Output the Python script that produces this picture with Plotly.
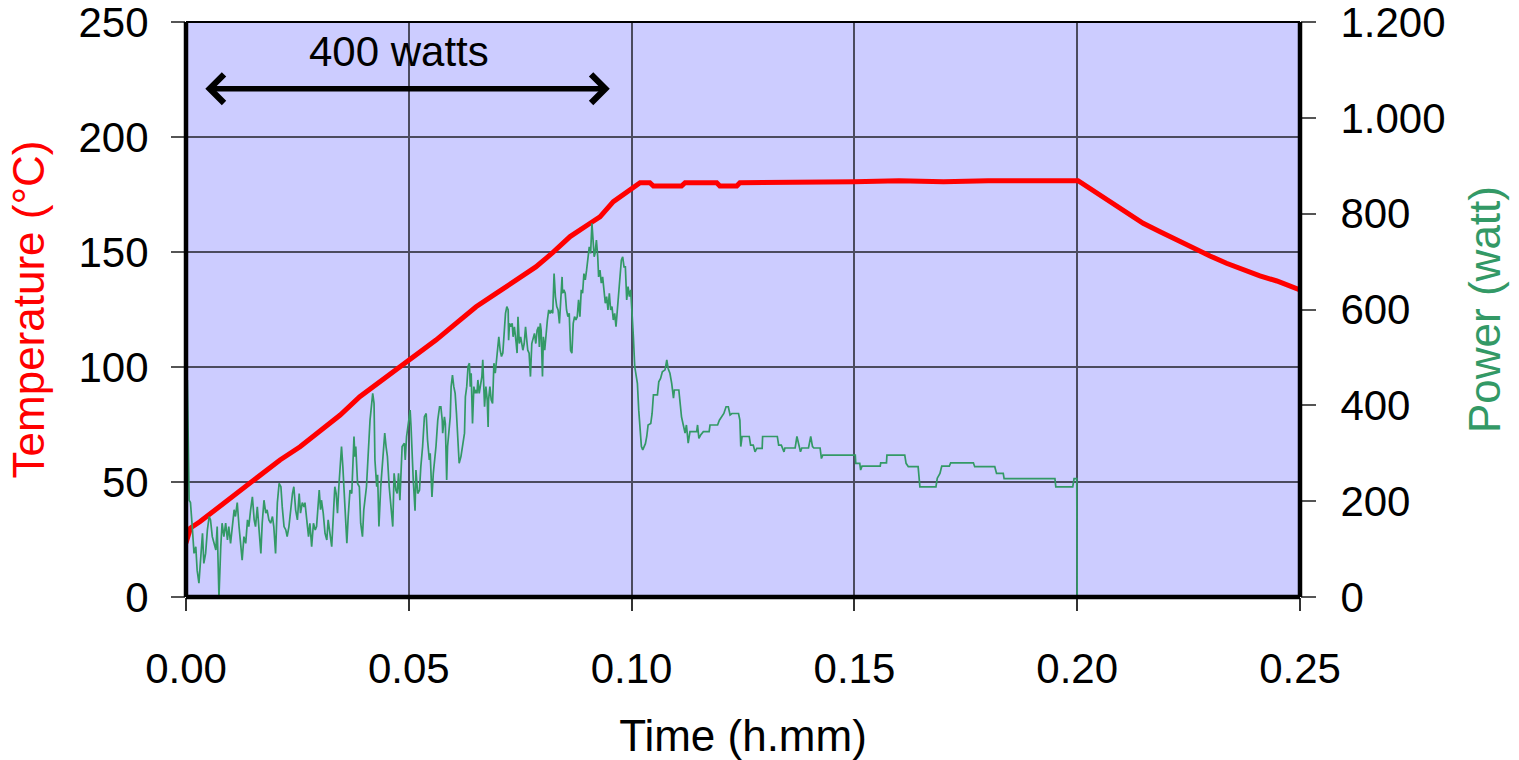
import plotly.graph_objects as go

# ---------------- data ----------------
TEMP_TIME = [0.0000, 0.0010, 0.0031, 0.0076, 0.0121, 0.0166, 0.0211, 0.0256, 0.0301, 0.0346,
             0.0390, 0.0435, 0.0480, 0.0525, 0.0561, 0.0606, 0.0651, 0.0696, 0.0741, 0.0785,
             0.0817, 0.0862, 0.0907, 0.0929, 0.0959, 0.0989, 0.1011, 0.1019, 0.1041, 0.1049,
             0.1112, 0.1120, 0.1191, 0.1198, 0.1236, 0.1243, 0.1500, 0.1600, 0.1700, 0.1800,
             0.2002, 0.2036, 0.2073, 0.2111, 0.2148, 0.2186, 0.2223, 0.2260, 0.2298, 0.2335,
             0.2373, 0.2410, 0.2448, 0.2485, 0.2500]
TEMP_C = [23.5, 30.0, 32.7, 39.3, 45.8, 53.0, 59.6, 65.3, 71.9, 79.1,
          87.1, 93.6, 100.1, 106.5, 111.7, 119.0, 126.2, 132.0, 137.8, 143.5,
          148.7, 156.7, 162.5, 165.3, 171.9, 176.2, 179.1, 180.1, 180.1, 178.7,
          178.7, 180.1, 180.1, 178.7, 178.7, 180.1, 180.5, 181.0, 180.5, 181.0,
          181.0, 176.7, 171.4, 166.8, 162.5, 158.8, 155.2, 151.6, 148.3, 145.1,
          142.2, 139.6, 137.4, 134.9, 133.5]

POWER_TIME = [
    0.0000, 0.0003, 0.0007, 0.0010, 0.0014, 0.0018, 0.0022, 0.0025, 0.0029, 0.0033,
    0.0037, 0.0040, 0.0044, 0.0048, 0.0052, 0.0055, 0.0059, 0.0063, 0.0067, 0.0070,
    0.0074, 0.0078, 0.0081, 0.0085, 0.0089, 0.0093, 0.0096, 0.0100, 0.0104, 0.0108,
    0.0111, 0.0115, 0.0119, 0.0123, 0.0126, 0.0130, 0.0134, 0.0138, 0.0141, 0.0145,
    0.0149, 0.0153, 0.0156, 0.0160, 0.0164, 0.0168, 0.0171, 0.0175, 0.0179, 0.0182,
    0.0186, 0.0190, 0.0194, 0.0197, 0.0201, 0.0205, 0.0209, 0.0213, 0.0216, 0.0220,
    0.0224, 0.0227, 0.0231, 0.0235, 0.0239, 0.0242, 0.0246, 0.0250, 0.0254, 0.0257,
    0.0261, 0.0265, 0.0267, 0.0271, 0.0275, 0.0278, 0.0282, 0.0286, 0.0290, 0.0293,
    0.0297, 0.0299, 0.0302, 0.0304, 0.0308, 0.0312, 0.0316, 0.0319, 0.0327, 0.0331,
    0.0334, 0.0337, 0.0340, 0.0343, 0.0346, 0.0349, 0.0352, 0.0355, 0.0358, 0.0361,
    0.0364, 0.0368, 0.0372, 0.0374, 0.0377, 0.0379, 0.0381, 0.0385, 0.0389, 0.0392,
    0.0396, 0.0399, 0.0405, 0.0409, 0.0413, 0.0419, 0.0422, 0.0424, 0.0428, 0.0430,
    0.0433, 0.0437, 0.0441, 0.0446, 0.0449, 0.0452, 0.0456, 0.0459, 0.0464, 0.0467,
    0.0471, 0.0474, 0.0477, 0.0480, 0.0482, 0.0485, 0.0490, 0.0492, 0.0495, 0.0499,
    0.0503, 0.0505, 0.0506, 0.0510, 0.0514, 0.0516, 0.0520, 0.0524, 0.0527, 0.0531,
    0.0535, 0.0539, 0.0542, 0.0546, 0.0548, 0.0550, 0.0552, 0.0555, 0.0558, 0.0561,
    0.0565, 0.0569, 0.0572, 0.0575, 0.0576, 0.0580, 0.0582, 0.0585, 0.0587, 0.0589,
    0.0591, 0.0593, 0.0595, 0.0598, 0.0601, 0.0604, 0.0607, 0.0610, 0.0613, 0.0617,
    0.0621, 0.0625, 0.0627, 0.0630, 0.0633, 0.0636, 0.0638, 0.0640, 0.0643, 0.0646,
    0.0649, 0.0651, 0.0653, 0.0655, 0.0658, 0.0661, 0.0664, 0.0666, 0.0668, 0.0670,
    0.0673, 0.0676, 0.0678, 0.0679, 0.0682, 0.0685, 0.0688, 0.0691, 0.0694, 0.0697,
    0.0699, 0.0702, 0.0705, 0.0708, 0.0711, 0.0714, 0.0717, 0.0720, 0.0723, 0.0724,
    0.0726, 0.0729, 0.0732, 0.0734, 0.0737, 0.0741, 0.0743, 0.0745, 0.0748, 0.0751,
    0.0754, 0.0756, 0.0759, 0.0762, 0.0764, 0.0767, 0.0770, 0.0773, 0.0776, 0.0779,
    0.0782, 0.0785, 0.0788, 0.0791, 0.0793, 0.0795, 0.0797, 0.0800, 0.0802, 0.0805,
    0.0808, 0.0811, 0.0814, 0.0817, 0.0820, 0.0823, 0.0826, 0.0829, 0.0832, 0.0835,
    0.0838, 0.0841, 0.0844, 0.0845, 0.0848, 0.0851, 0.0854, 0.0857, 0.0860, 0.0863,
    0.0866, 0.0869, 0.0872, 0.0875, 0.0878, 0.0881, 0.0884, 0.0887, 0.0890, 0.0893,
    0.0896, 0.0899, 0.0902, 0.0905, 0.0908, 0.0911, 0.0913, 0.0916, 0.0918, 0.0921,
    0.0924, 0.0926, 0.0929, 0.0932, 0.0935, 0.0938, 0.0941, 0.0944, 0.0947, 0.0950,
    0.0953, 0.0956, 0.0959, 0.0962, 0.0965, 0.0968, 0.0971, 0.0974, 0.0977, 0.0980,
    0.0983, 0.0986, 0.0989, 0.0992, 0.0995, 0.0998, 0.1001, 0.1004, 0.1007, 0.1010,
    0.1013, 0.1016, 0.1019, 0.1022, 0.1025, 0.1028, 0.1031, 0.1034, 0.1037, 0.1043,
    0.1046, 0.1049, 0.1058, 0.1061, 0.1065, 0.1069, 0.1075, 0.1079, 0.1082, 0.1086,
    0.1090, 0.1094, 0.1096, 0.1106, 0.1109, 0.1112, 0.1116, 0.1120, 0.1123, 0.1127,
    0.1131, 0.1146, 0.1148, 0.1151, 0.1155, 0.1161, 0.1174, 0.1176, 0.1193, 0.1197,
    0.1207, 0.1212, 0.1217, 0.1221, 0.1225, 0.1240, 0.1243, 0.1245, 0.1248, 0.1264,
    0.1267, 0.1273, 0.1277, 0.1281, 0.1293, 0.1294, 0.1327, 0.1330, 0.1336, 0.1339,
    0.1342, 0.1344, 0.1367, 0.1371, 0.1376, 0.1379, 0.1382, 0.1397, 0.1402, 0.1406,
    0.1409, 0.1423, 0.1426, 0.1429, 0.1502, 0.1503, 0.1512, 0.1514, 0.1517, 0.1558,
    0.1559, 0.1572, 0.1573, 0.1613, 0.1616, 0.1621, 0.1643, 0.1647, 0.1683, 0.1686,
    0.1692, 0.1696, 0.1713, 0.1716, 0.1767, 0.1770, 0.1815, 0.1819, 0.1834, 0.1836,
    0.1950, 0.1952, 0.1990, 0.1993, 0.1999, 0.2000, 0.2500]
POWER_W = [
    450, 453, 202, 197, 147, 91, 105, 56, 29, 77,
    133, 70, 91, 140, 168, 161, 126, 112, 98, 147,
    0, 105, 154, 126, 154, 119, 147, 112, 154, 182,
    168, 197, 147, 105, 77, 126, 112, 161, 147, 182,
    209, 161, 147, 188, 147, 91, 154, 202, 175, 182,
    161, 154, 168, 147, 91, 197, 237, 230, 188, 147,
    140, 126, 147, 188, 216, 230, 182, 161, 216, 175,
    197, 188, 197, 161, 126, 154, 105, 154, 140, 147,
    216, 223, 182, 202, 175, 133, 119, 161, 105, 182,
    230, 216, 175, 230, 265, 314, 272, 216, 182, 112,
    168, 223, 216, 272, 335, 293, 314, 237, 230, 154,
    126, 182, 230, 300, 369, 425, 404, 286, 230, 255,
    147, 230, 286, 342, 314, 293, 230, 202, 147, 258,
    223, 216, 258, 202, 265, 314, 321, 286, 335, 369,
    390, 356, 328, 244, 180, 265, 216, 223, 272, 314,
    376, 383, 328, 286, 300, 223, 209, 258, 286, 314,
    369, 397, 397, 369, 342, 376, 362, 244, 314, 342,
    362, 376, 439, 463, 439, 425, 383, 328, 279, 293,
    314, 342, 418, 439, 481, 488, 439, 467, 362, 439,
    425, 432, 425, 453, 425, 439, 460, 495, 439, 397,
    439, 411, 355, 411, 439, 411, 404, 488, 467, 495,
    522, 543, 515, 502, 509, 564, 592, 606, 599, 536,
    571, 564, 571, 543, 564, 529, 509, 585, 529, 543,
    522, 515, 529, 564, 543, 515, 509, 460, 529, 543,
    550, 529, 557, 564, 522, 571, 557, 460, 543, 515,
    557, 578, 599, 592, 599, 592, 675, 627, 606, 599,
    571, 627, 668, 634, 641, 634, 599, 585, 592, 515,
    509, 571, 585, 578, 585, 620, 585, 641, 634, 675,
    662, 682, 703, 731, 717, 780, 752, 710, 717, 745,
    710, 668, 682, 655, 668, 641, 613, 627, 599, 634,
    599, 606, 578, 592, 564, 599, 634, 668, 703, 710,
    689, 689, 620, 648, 627, 641, 599, 543, 481, 467,
    446, 390, 349, 314, 307, 314, 320, 335, 359, 362,
    383, 422, 422, 449, 456, 470, 474, 495, 477, 467,
    446, 415, 432, 432, 404, 376, 359, 342, 359, 321,
    345, 345, 359, 331, 338, 345, 345, 359, 359, 369,
    383, 397, 397, 380, 383, 383, 369, 314, 335, 335,
    317, 317, 303, 310, 310, 335, 335, 317, 317, 310,
    303, 311, 311, 335, 314, 303, 311, 311, 335, 314,
    311, 311, 289, 296, 296, 279, 279, 265, 273, 273,
    280, 280, 296, 296, 279, 272, 272, 230, 230, 248,
    258, 273, 273, 280, 280, 272, 272, 258, 258, 247,
    247, 230, 230, 247, 247, 0, 0]

X_TICKS = [0.00, 0.05, 0.10, 0.15, 0.20, 0.25]
Y_TICKS = [0, 50, 100, 150, 200, 250]
Y2_TICKS = [0, 200, 400, 600, 800, 1000, 1200]
Y2_LABELS = ["0", "200", "400", "600", "800", "1.000", "1.200"]

ARROW_START, ARROW_END, ARROW_LEVEL = 0.004, 0.0951, 221
LABEL_X, LABEL_Y, LABEL_TEXT = 0.0478, 237, "400 watts"

# ---------------- figure ----------------
FONT = "Liberation Sans, Arial, sans-serif"
GREEN = "#339966"

fig = go.Figure()
fig.add_trace(go.Scatter(x=TEMP_TIME, y=TEMP_C, mode="lines", name="Temperature",
                         line=dict(color="#FF0000", width=5), yaxis="y"))
fig.add_trace(go.Scatter(x=POWER_TIME, y=POWER_W, mode="lines", name="Power",
                         line=dict(color=GREEN, width=1.7), yaxis="y2"))

grid = "#4b4b5e"
fig.update_layout(
    width=1519, height=760,
    margin=dict(l=186, r=219, t=22, b=163, autoexpand=False),
    paper_bgcolor="white", plot_bgcolor="#CCCCFF",
    showlegend=False,
    font=dict(family=FONT, size=42, color="black"),
    xaxis=dict(range=[0, 0.25], tickvals=X_TICKS, tickformat=".2f", automargin=False,
               showgrid=True, gridcolor=grid, gridwidth=1.5,
               ticks="outside", ticklen=13, tickwidth=1.5, tickcolor="#333",
               ticklabelstandoff=22, ticklabeloverflow="allow",
               zeroline=False, showline=False,
               title=dict(text="Time (h.mm)", font=dict(size=44), standoff=36)),
    yaxis=dict(range=[0, 250], tickvals=Y_TICKS, automargin=False,
               showgrid=True, gridcolor=grid, gridwidth=1.5,
               ticks="outside", ticklen=14, tickwidth=1.5, tickcolor="#555",
               ticklabelstandoff=14, ticklabeloverflow="allow",
               zeroline=False, showline=False,
               title=dict(text="Temperature (°C)", font=dict(size=44, color="#FF0000"), standoff=20)),
    yaxis2=dict(range=[0, 1200], tickvals=Y2_TICKS, ticktext=Y2_LABELS, automargin=False,
                overlaying="y", side="right", showgrid=False,
                ticks="outside", ticklen=15, tickwidth=1.5, tickcolor="#555",
                ticklabelstandoff=16, ticklabeloverflow="allow",
                zeroline=False, showline=False,
                title=dict(text="Power (watt)", font=dict(size=44, color=GREEN), standoff=24)),
)

# frame of the plot area
fig.add_shape(type="line", xref="paper", yref="paper", x0=0, x1=0, y0=0, y1=1,
              line=dict(color="black", width=4.5))
fig.add_shape(type="line", xref="paper", yref="paper", x0=1, x1=1, y0=0, y1=1,
              line=dict(color="black", width=4.5))
fig.add_shape(type="line", xref="paper", yref="paper", x0=0, x1=1, y0=0, y1=0,
              line=dict(color="black", width=4.5))
fig.add_shape(type="line", xref="paper", yref="paper", x0=0, x1=1, y0=1, y1=1,
              line=dict(color="black", width=2))

# double-headed arrow and label
fig.add_annotation(x=ARROW_END, y=ARROW_LEVEL, ax=ARROW_START, ay=ARROW_LEVEL,
                   xref="x", yref="y", axref="x", ayref="y", text="",
                   showarrow=True, arrowside="end+start", arrowhead=4, startarrowhead=4,
                   arrowsize=1.0, startarrowsize=1.0, arrowwidth=5.5, arrowcolor="black")
fig.add_annotation(x=LABEL_X, y=LABEL_Y, xref="x", yref="y", text=LABEL_TEXT,
                   showarrow=False, font=dict(size=42, color="black"))

fig.write_html("out.html")
